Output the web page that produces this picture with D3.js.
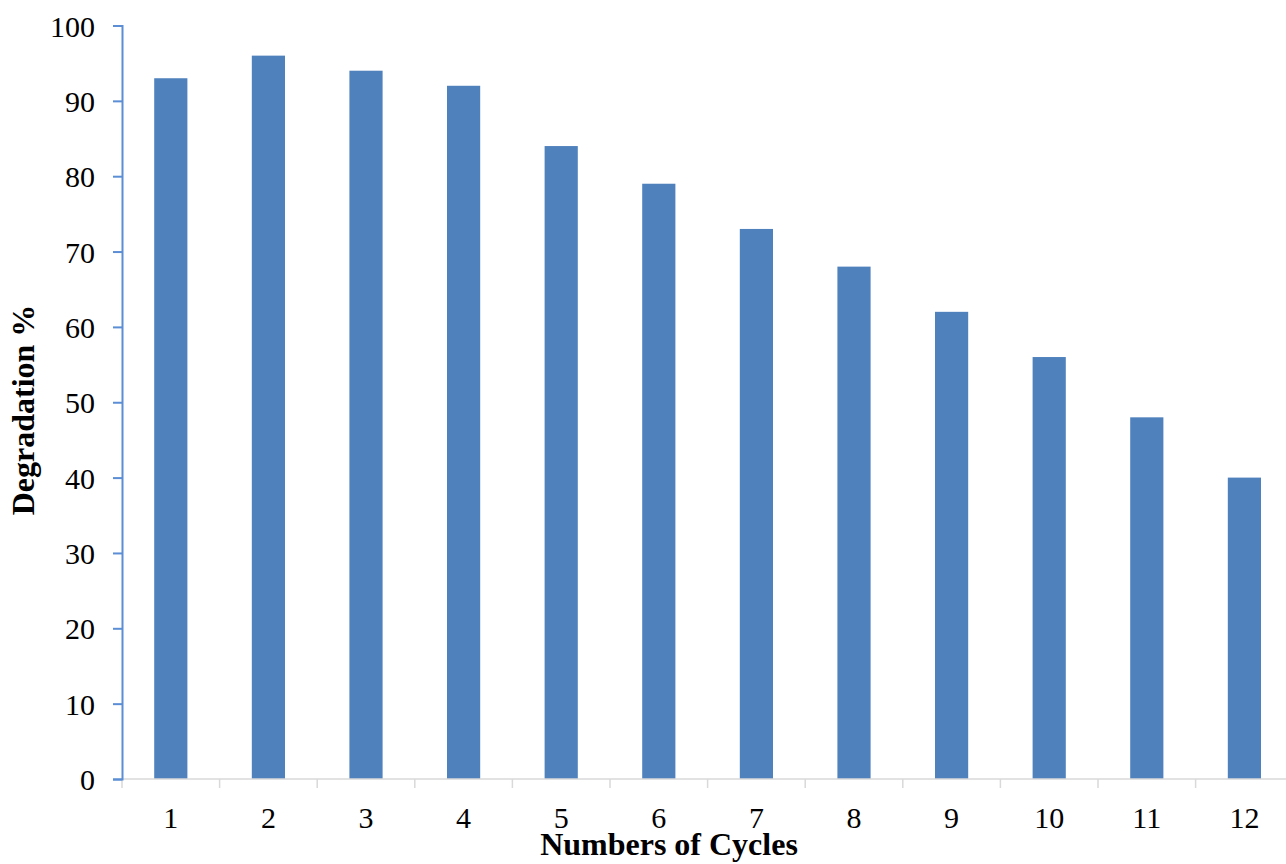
<!DOCTYPE html>
<html><head><meta charset="utf-8">
<script src="https://cdn.jsdelivr.net/npm/d3@7"></script>
<style>body{margin:0;background:#fff}svg{display:block}</style>
</head><body>
<script>
const categories = ["1","2","3","4","5","6","7","8","9","10","11","12"];
const values = [93, 96, 94, 92, 84, 79, 73, 68, 62, 56, 48, 40];
const yTicks = [0,10,20,30,40,50,60,70,80,90,100];
const xTitle = "Numbers of Cycles";
const yTitle = "Degradation %";

(function(){
const W = 1286, H = 864;
const svg = d3.select("body").append("svg").attr("width", W).attr("height", H);
const mLeft = 122, mTop = 25.5, mBottom = 779, band = 97.6;
const x = d3.scaleBand().domain(categories).range([mLeft, mLeft + 12*band]).paddingInner(0.66).paddingOuter(0.33);
const y = d3.scaleLinear().domain([0,100]).range([mBottom, mTop]);
const font = "'Liberation Serif','Times New Roman',serif";

svg.selectAll("rect.bar").data(values).join("rect")
  .attr("class","bar")
  .attr("x",(d,i)=>x(categories[i]))
  .attr("width",x.bandwidth())
  .attr("y",d=>y(d))
  .attr("height",d=>y(0)-y(d))
  .attr("fill","#4f81bd");

// x axis
const xa = svg.append("g").attr("transform",`translate(0,${mBottom})`);
xa.append("line").attr("x1",mLeft).attr("x2",W).attr("y1",0).attr("y2",0).attr("stroke","#d9d9d9").attr("stroke-width",1.5);
d3.range(13).forEach(i=>{
  const xx = mLeft + i*band;
  xa.append("line").attr("x1",xx).attr("x2",xx).attr("y1",0).attr("y2",9).attr("stroke","#d9d9d9").attr("stroke-width",1.5);
});
xa.selectAll("text").data(categories).join("text")
  .attr("x",d=>x(d)+x.bandwidth()/2).attr("y",49)
  .attr("text-anchor","middle").attr("font-family",font).attr("font-size",30).attr("fill","#000")
  .text(d=>d);

// y axis
const ya = svg.append("g").attr("transform",`translate(${mLeft},0)`);
const yAxis = d3.axisLeft(y).tickValues(yTicks).tickSize(9).tickPadding(18);
ya.call(yAxis);
ya.select(".domain").attr("stroke","#5b8ed4").attr("stroke-width",2);
ya.selectAll(".tick line").attr("stroke","#5b8ed4").attr("stroke-width",2);
ya.selectAll(".tick text").attr("font-family",font).attr("font-size",30).attr("fill","#000").attr("dy","0.35em");

svg.append("text").attr("x",669).attr("y",855).attr("text-anchor","middle")
  .attr("font-family",font).attr("font-weight","bold").attr("font-size",32).text(xTitle);
svg.append("text").attr("transform","translate(34,410) rotate(-90)").attr("text-anchor","middle")
  .attr("font-family",font).attr("font-weight","bold").attr("font-size",32).text(yTitle);
})();
</script>
</body></html>
